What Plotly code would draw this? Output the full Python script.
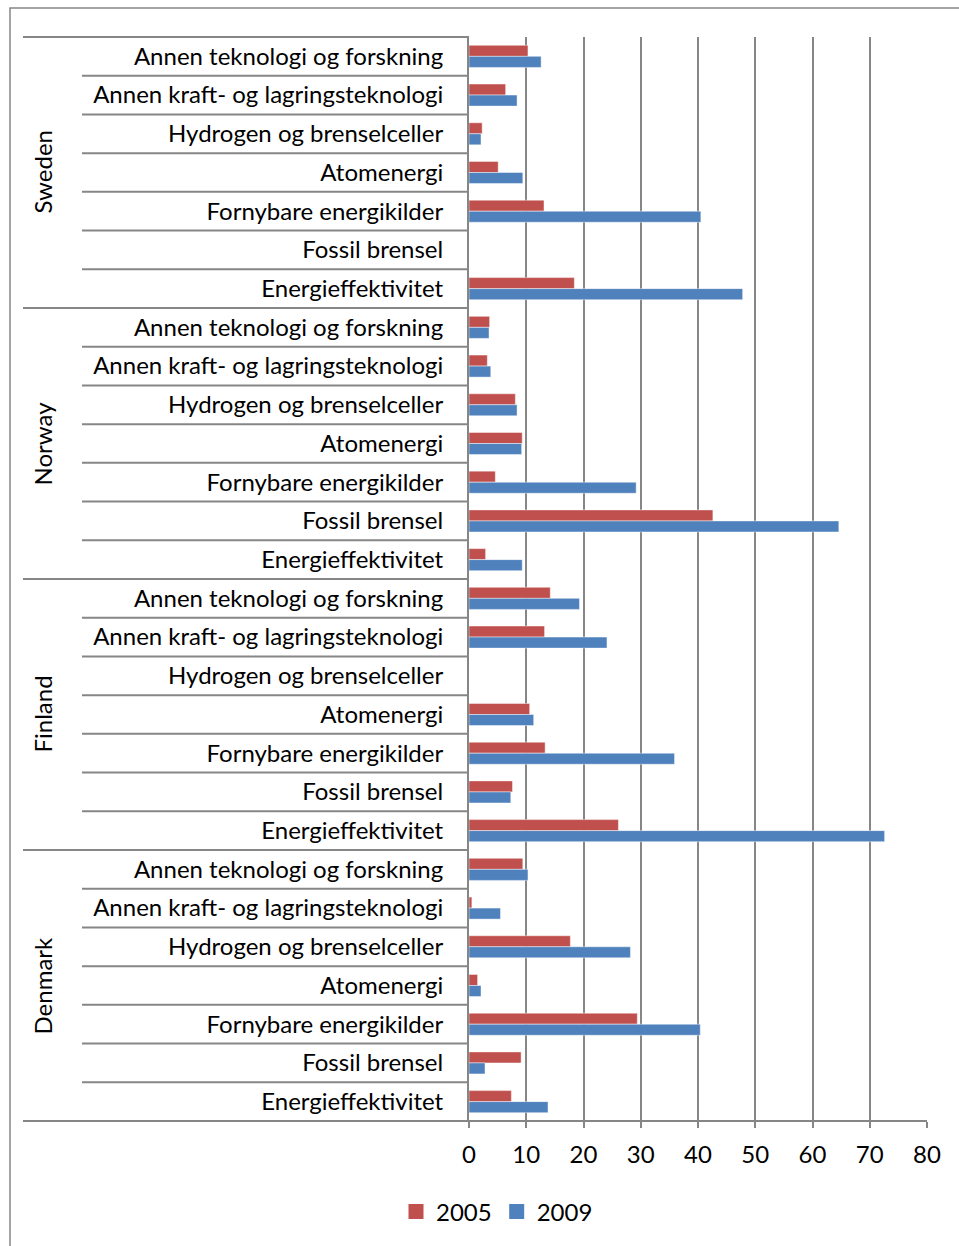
import plotly.graph_objects as go

# Countries and technology areas, listed top to bottom as drawn
countries = ["Sweden", "Norway", "Finland", "Denmark"]
categories = [
    "Annen teknologi og forskning",
    "Annen kraft- og lagringsteknologi",
    "Hydrogen og brenselceller",
    "Atomenergi",
    "Fornybare energikilder",
    "Fossil brensel",
    "Energieffektivitet",
]

# Values per country, in the same order as `categories`
sweden_2005 = [10.3, 6.4, 2.3, 5.1, 13.1, None, 18.4]
sweden_2009 = [12.6, 8.4, 2.1, 9.4, 40.5, None, 47.8]
norway_2005 = [3.6, 3.2, 8.1, 9.3, 4.6, 42.6, 2.9]
norway_2009 = [3.5, 3.8, 8.4, 9.2, 29.2, 64.6, 9.3]
finland_2005 = [14.2, 13.2, None, 10.6, 13.3, 7.6, 26.1]
finland_2009 = [19.3, 24.1, None, 11.3, 35.9, 7.3, 72.6]
denmark_2005 = [9.4, 0.5, 17.7, 1.5, 29.4, 9.1, 7.4]
denmark_2009 = [10.3, 5.5, 28.2, 2.1, 40.4, 2.8, 13.8]

series_2005 = sweden_2005 + norway_2005 + finland_2005 + denmark_2005
series_2009 = sweden_2009 + norway_2009 + finland_2009 + denmark_2009

x_ticks = [0, 10, 20, 30, 40, 50, 60, 70, 80]

n_cat = len(categories)
n_rows = n_cat * len(countries)
rows = list(range(n_rows))
row_labels = categories * len(countries)

RED = "#C0504D"
BLUE = "#4F81BD"
GRID = "#868686"
FONT = "Lato, Open Sans, sans-serif"
FS = 24

fig = go.Figure()
for name, values, color in (("2005", series_2005, RED), ("2009", series_2009, BLUE)):
    fig.add_trace(go.Bar(
        y=rows, x=values, orientation="h", name=name, showlegend=False,
        legendgroup=name,
        marker=dict(color=color, line=dict(color="rgba(255,255,255,0.45)", width=1)),
    ))
    # legend key drawn as a larger square swatch
    fig.add_trace(go.Scatter(
        x=[None], y=[None], mode="markers", name=name, legendgroup=name,
        marker=dict(symbol="square", size=15, color=color),
    ))

# Plot area geometry (pixels)
W, H = 959, 1246
L, R, T, B = 469, 32, 37, 125
pw = W - L - R
ph = H - T - B


def px_to_xpaper(px):
    return (px - L) / pw


def px_to_ypaper(py):
    return (H - B - py) / ph


shapes = []
# Row separators on the category axis; longer lines between countries
for k in range(n_rows + 1):
    yp = 1 - k / n_rows
    x_start = 23 if k % n_cat == 0 else 82
    shapes.append(dict(
        type="line", xref="paper", yref="paper",
        x0=px_to_xpaper(x_start), x1=0, y0=yp, y1=yp,
        line=dict(color=GRID, width=2),
    ))
# Bottom axis line extended under the category labels
shapes.append(dict(
    type="line", xref="paper", yref="paper",
    x0=px_to_xpaper(23), x1=1, y0=0, y1=0,
    line=dict(color=GRID, width=2),
))
# Chart frame
shapes.append(dict(
    type="rect", xref="paper", yref="paper",
    x0=px_to_xpaper(10), x1=1.3, y0=-0.3, y1=px_to_ypaper(8),
    line=dict(color=GRID, width=1.5), fillcolor="rgba(0,0,0,0)", layer="below",
))

annotations = []
for i, c in enumerate(countries):
    yc = 1 - (i * n_cat + n_cat / 2) / n_rows
    annotations.append(dict(
        text=c, xref="paper", yref="paper",
        x=px_to_xpaper(42), y=yc, textangle=-90,
        showarrow=False, font=dict(family=FONT, size=FS, color="black"),
        xanchor="center", yanchor="middle",
    ))

fig.update_layout(
    width=W, height=H,
    margin=dict(l=L, r=R, t=T, b=B, pad=0),
    paper_bgcolor="white", plot_bgcolor="white",
    barmode="group", bargap=0.43, bargroupgap=0,
    font=dict(family=FONT, size=FS, color="black"),
    showlegend=True,
    legend=dict(
        orientation="h", x=px_to_xpaper(497), y=px_to_ypaper(1212),
        xanchor="center", yanchor="middle",
        font=dict(family=FONT, size=FS, color="black"),
        itemwidth=30, tracegroupgap=0,
    ),
    shapes=shapes,
    annotations=annotations,
)

fig.update_xaxes(
    range=[0, 80], tickvals=x_ticks, ticktext=[str(v) for v in x_ticks],
    showgrid=True, gridcolor=GRID, gridwidth=2,
    zeroline=False, showline=False,
    ticks="outside", ticklen=6, tickcolor=GRID, tickwidth=2,
    ticklabelstandoff=6,
    tickfont=dict(family=FONT, size=FS, color="black"),
    fixedrange=True,
)
fig.update_yaxes(
    range=[n_rows - 0.5, -0.5],
    tickvals=rows, ticktext=row_labels,
    showgrid=False, zeroline=False,
    showline=True, linecolor=GRID, linewidth=2,
    ticks="", ticklabelstandoff=19,
    tickfont=dict(family=FONT, size=FS, color="black"),
    fixedrange=True,
)

fig.write_html("out.html")
